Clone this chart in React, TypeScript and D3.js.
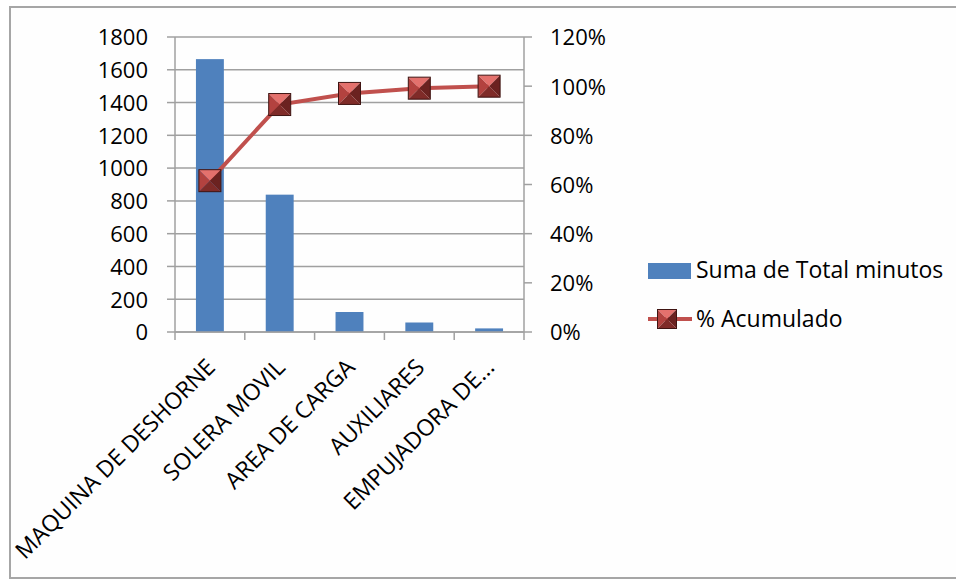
import React from "react";
import * as d3 from "d3";

const categories = [
  "MAQUINA DE DESHORNE",
  "SOLERA MOVIL",
  "AREA DE CARGA",
  "AUXILIARES",
  "EMPUJADORA DE...",
];
const totalMinutes = [1665, 838, 122, 58, 22];
const leftTicks = [0, 200, 400, 600, 800, 1000, 1200, 1400, 1600, 1800];
const rightTicks = [0, 0.2, 0.4, 0.6, 0.8, 1.0, 1.2];
const legendLabels = ["Suma de Total minutos", "% Acumulado"];

const W = 956;
const H = 581;
const plot = { left: 175, right: 524, top: 37, bottom: 332 };
const FONT = "'Open Sans', Lato, sans-serif";
const GRID = "#a0a0a0";
const BAR = "#4f81bd";
const LINE = "#c0504d";

// Cumulative share of the total, per category
const grandTotal = d3.sum(totalMinutes);
const cumulative: number[] = Array.from(d3.cumsum(totalMinutes), (v) => v / grandTotal);

function Marker({ cx, cy, size }: { cx: number; cy: number; size: number }) {
  const h = size / 2;
  const x0 = cx - h, x1 = cx + h, y0 = cy - h, y1 = cy + h;
  const tri = (pts: number[][]) => pts.map((p) => p.join(",")).join(" ");
  return (
    <g>
      <polygon points={tri([[x0, y0], [x1, y0], [cx, cy]])} fill="#e4716d" />
      <polygon points={tri([[x0, y0], [x0, y1], [cx, cy]])} fill="#b3423f" />
      <polygon points={tri([[x1, y0], [x1, y1], [cx, cy]])} fill="#6b2220" />
      <polygon points={tri([[x0, y1], [x1, y1], [cx, cy]])} fill="#7f2b28" />
      <rect x={x0} y={y0} width={size} height={size} fill="none" stroke="#3f1412" strokeWidth={1} />
    </g>
  );
}

export default function App() {
  const x = d3
    .scaleBand<string>()
    .domain(categories)
    .range([plot.left, plot.right])
    .paddingInner(0.6)
    .paddingOuter(0.3);
  const yL = d3.scaleLinear().domain([0, 1800]).range([plot.bottom, plot.top]);
  const yR = d3.scaleLinear().domain([0, 1.2]).range([plot.bottom, plot.top]);
  const fmtPct = d3.format(".0%");
  const step = (plot.right - plot.left) / categories.length;
  const center = (c: string) => (x(c) as number) + x.bandwidth() / 2;

  const line = d3
    .line<number>()
    .x((_, i) => center(categories[i]))
    .y((d) => yR(d));

  const boundaries = d3.range(categories.length + 1).map((i) => plot.left + i * step);

  return (
    <svg
      width={W}
      height={H}
      style={{ position: "absolute", left: 0, top: 0, background: "#ffffff" }}
      fontFamily={FONT}
    >
      <rect x={10} y={7} width={960} height={571} fill="#fefefe" stroke="#a6a6a6" strokeWidth={2} />

      {/* gridlines */}
      {leftTicks.map((t) => (
        <line key={"g" + t} x1={plot.left} x2={plot.right} y1={yL(t)} y2={yL(t)} stroke={GRID} strokeWidth={1.5} />
      ))}

      {/* bars */}
      {categories.map((c, i) => (
        <rect
          key={c}
          x={x(c)}
          y={yL(totalMinutes[i])}
          width={x.bandwidth()}
          height={plot.bottom - yL(totalMinutes[i])}
          fill={BAR}
        />
      ))}

      {/* axes */}
      <line x1={plot.left} x2={plot.left} y1={plot.top} y2={plot.bottom} stroke={GRID} strokeWidth={1.5} />
      <line x1={plot.right} x2={plot.right} y1={plot.top} y2={plot.bottom} stroke={GRID} strokeWidth={1.5} />
      <line x1={plot.left} x2={plot.right} y1={plot.bottom} y2={plot.bottom} stroke={GRID} strokeWidth={1.5} />
      {leftTicks.map((t) => (
        <g key={"l" + t}>
          <line x1={plot.left - 8} x2={plot.left} y1={yL(t)} y2={yL(t)} stroke={GRID} strokeWidth={1.5} />
          <text x={148} y={yL(t)} dy="0.38em" textAnchor="end" fontSize={22} fill="#000">
            {t}
          </text>
        </g>
      ))}
      {rightTicks.map((t) => (
        <g key={"r" + t}>
          <line x1={plot.right} x2={plot.right + 8} y1={yR(t)} y2={yR(t)} stroke={GRID} strokeWidth={1.5} />
          <text x={550} y={yR(t)} dy="0.38em" textAnchor="start" fontSize={22} fill="#000">
            {fmtPct(t)}
          </text>
        </g>
      ))}
      {boundaries.map((bx, i) => (
        <line key={"t" + i} x1={bx} x2={bx} y1={plot.bottom} y2={plot.bottom + 8} stroke={GRID} strokeWidth={1.5} />
      ))}
      {categories.map((c) => (
        <text
          key={"x" + c}
          transform={`translate(${center(c) - 5},${plot.bottom + 25}) rotate(-45)`}
          textAnchor="end"
          dy="0.72em"
          fontSize={23}
          fill="#000"
        >
          {c}
        </text>
      ))}

      {/* cumulative line */}
      <path d={line(cumulative) as string} fill="none" stroke={LINE} strokeWidth={4} />
      {cumulative.map((v, i) => (
        <Marker key={"m" + i} cx={center(categories[i])} cy={yR(v)} size={22} />
      ))}

      {/* legend */}
      <rect x={648} y={263} width={43} height={16} fill={BAR} />
      <text x={696} y={278} fontSize={23} fill="#000">
        {legendLabels[0]}
      </text>
      <line x1={648} x2={692} y1={319} y2={319} stroke={LINE} strokeWidth={4} />
      <Marker cx={667} cy={319} size={19} />
      <text x={696} y={327} fontSize={23} fill="#000">
        {legendLabels[1]}
      </text>
    </svg>
  );
}
